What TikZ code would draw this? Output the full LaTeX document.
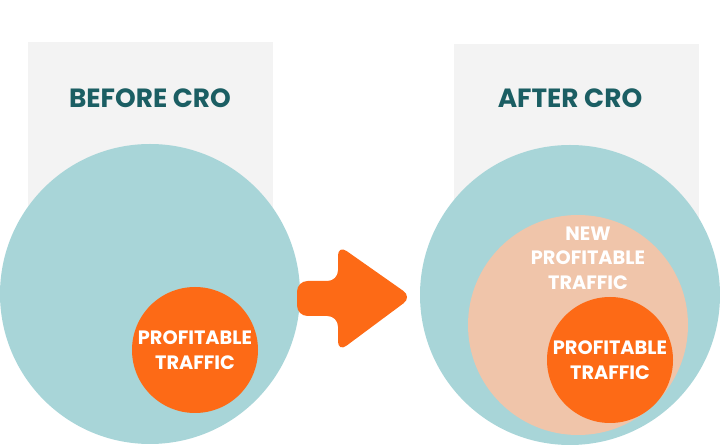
\documentclass[tikz,border=0pt]{standalone}
\usepackage{fontspec}
\setmainfont{Poppins}
\definecolor{panelgray}{HTML}{F3F3F3}
\definecolor{lightteal}{HTML}{A8D5D8}
\definecolor{croorange}{HTML}{FD6A16}
\definecolor{peach}{HTML}{F0C5AA}
\definecolor{darkteal}{HTML}{1B5E63}
\tikzset{
  title/.style={text=darkteal, font=\bfseries\fontsize{15}{18}\selectfont},
  label/.style={text=white, align=center, font=\bfseries\fontsize{11}{14}\selectfont},
}
\begin{document}
\begin{tikzpicture}[x=0.02cm,y=-0.02cm]
  \useasboundingbox (0,0) rectangle (720,445);
  % panels
  \fill [panelgray] (28,42) rectangle (273,250);
  \fill [panelgray] (454,44) rectangle (699,250);
  \node [title] (before) at (150,98) {BEFORE CRO};
  \node [title] (after) at (570,98) {AFTER CRO};
  % before
  \fill [lightteal] (150,294) circle (150);
  \fill [croorange] (195,350) circle (63);
  \node [label] (prof1) at (195,350) {PROFITABLE\\TRAFFIC};
  % arrow
  \fill [croorange, rounded corners=6pt] (297,281) -- (338,281) -- (338,245) -- (412,297)
    -- (338,352) -- (338,316) -- (297,316) -- cycle;
  % after
  \fill [lightteal] (570,295) circle (150);
  \fill [peach] (578,325) circle (110);
  \node [label] (new) at (588,258) {NEW\\PROFITABLE\\TRAFFIC};
  \fill [croorange] (610,360) circle (63);
  \node [label] (prof2) at (610,360) {PROFITABLE\\TRAFFIC};
\end{tikzpicture}
\end{document}
